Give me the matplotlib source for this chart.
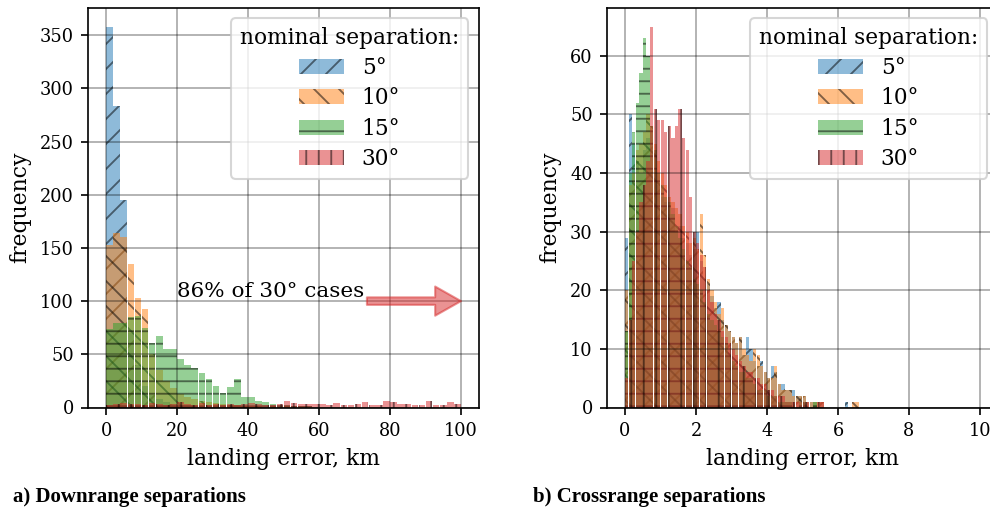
import numpy as np
import matplotlib
matplotlib.use("Agg")
import matplotlib.pyplot as plt

plt.rcParams['font.family'] = ['DejaVu Serif']
plt.rcParams['hatch.color'] = '#00000080'
plt.rcParams['hatch.linewidth'] = 0.9

# ---------------- data ----------------
labels = ['5°', '10°', '15°', '30°']
hatches = ['//', '\\\\', '--', '||']

# a) downrange: 2 km bins from 0 to 100 km
down_edges = np.arange(0, 101, 2)
down_5 = [358, 283, 195, 70, 40, 20, 12, 8, 5, 3, 2, 2, 1, 1, 0, 0, 0, 0, 0, 0,
          0, 0, 0, 0, 0, 0, 0, 0, 0, 0, 0, 0, 0, 0, 0, 0, 0, 0, 0, 0,
          0, 0, 0, 0, 0, 0, 0, 0, 0, 0]
down_10 = [153, 164, 160, 135, 103, 93, 50, 35, 25, 18, 13, 10, 8, 6, 5, 4, 3, 2, 2, 1,
           1, 1, 0, 1, 0, 1, 0, 0, 0, 0, 0, 0, 0, 0, 0, 0, 0, 0, 0, 0,
           0, 0, 0, 0, 0, 0, 0, 0, 0, 0]
down_15 = [74, 79, 79, 85, 86, 75, 61, 67, 55, 55, 46, 40, 37, 32, 27, 20, 14, 19, 27, 10,
           10, 6, 5, 3, 2, 2, 1, 1, 1, 0, 0, 0, 0, 0, 0, 0, 0, 0, 0, 0,
           0, 0, 0, 0, 0, 0, 0, 0, 0, 0]
down_30 = [2, 3, 4, 3, 3, 2, 4, 3, 2, 3, 5, 3, 2, 4, 2, 3, 2, 3, 2, 3,
           4, 3, 2, 2, 3, 6, 4, 3, 3, 3, 3, 2, 4, 2, 2, 3, 5, 2, 2, 6,
           5, 3, 3, 2, 2, 6, 2, 2, 5, 3]

# b) crossrange: 0.1 km bins from 0 to 6.6 km
cross_edges = np.round(np.arange(0, 6.61, 0.1), 2)
cross_5 = [29, 50, 45, 42, 40, 44, 46, 47, 40, 38, 36, 35, 33, 34, 30, 31, 29, 28, 26, 27,
           30, 25, 22, 21, 19, 17, 18, 15, 14, 13, 12, 11, 12, 9, 12, 10, 8, 7, 8, 6,
           5, 7, 6, 4, 4, 3, 3, 3, 2, 2, 2, 1, 1, 1, 0, 1, 0, 0, 0, 0,
           0, 0, 1, 0, 0, 0]
cross_10 = [20, 38, 40, 44, 45, 47, 50, 48, 45, 42, 40, 38, 36, 35, 34, 33, 31, 30, 28, 29,
            27, 33, 26, 22, 20, 18, 16, 17, 14, 13, 12, 11, 12, 10, 9, 8, 10, 9, 7, 6,
            5, 5, 7, 4, 3, 3, 3, 2, 2, 2, 2, 1, 1, 1, 1, 1, 0, 0, 0, 0,
            0, 0, 0, 0, 1, 1]
cross_15 = [13, 40, 47, 52, 57, 63, 60, 48, 44, 40, 38, 36, 35, 33, 31, 29, 27, 25, 24, 22,
            21, 20, 18, 16, 15, 14, 13, 12, 11, 9, 8, 7, 6, 6, 5, 5, 4, 3, 3, 3,
            2, 2, 2, 1, 1, 1, 1, 0, 0, 1, 1, 0, 0, 1, 0, 0, 0, 0, 0, 0,
            0, 0, 0, 0, 0, 0]
cross_30 = [5, 15, 25, 30, 35, 38, 42, 65, 51, 49, 49, 47, 48, 46, 48, 51, 46, 44, 36, 30,
            28, 26, 24, 20, 18, 16, 15, 13, 12, 11, 10, 9, 8, 7, 6, 6, 5, 5, 4, 4,
            3, 3, 2, 2, 2, 1, 1, 1, 1, 1, 1, 1, 0, 0, 1, 1, 0, 0, 0, 0,
            0, 0, 0, 0, 0, 0]

down_series = [down_5, down_10, down_15, down_30]
cross_series = [cross_5, cross_10, cross_15, cross_30]

# ---------------- figure ----------------
W, H = 990, 511
fig = plt.figure(figsize=(W / 150, H / 150), dpi=150)

axw = 390.5 / W
axh = 400 / H
axb = (H - 407.5) / H
axL = fig.add_axes([88.25 / W, axb, axw, axh])
axR = fig.add_axes([607.25 / W, axb, axw, axh])

FS_TICK = 8.5
FS_LAB = 10.5
FS_LEG = 10.4


def draw(ax, edges, series, rwidth):
    edges = np.asarray(edges, dtype=float)
    centers = 0.5 * (edges[:-1] + edges[1:])
    for i, (vals, lab, h) in enumerate(zip(series, labels, hatches)):
        ax.hist(centers, bins=edges, weights=vals, alpha=0.5, color=f'C{i}',
                hatch=h, label=lab, rwidth=rwidth)
    ax.grid(True, color='k', alpha=0.35, linewidth=0.8)
    ax.tick_params(labelsize=FS_TICK)
    ax.set_xlabel('landing error, km', fontsize=FS_LAB)
    ax.set_ylabel('frequency', fontsize=FS_LAB)
    ax.legend(title='nominal separation:', loc='upper right',
              fontsize=FS_LEG, title_fontsize=FS_LEG, handlelength=2.1,
              labelspacing=0.38)


draw(axL, down_edges, down_series, 0.92)
axL.set_xlim(-5, 105)
axL.set_ylim(0, 376)
axL.set_xticks(np.arange(0, 101, 20))
axL.set_yticks(np.arange(0, 351, 50))
axL.text(20, 104, '86% of 30° cases', fontsize=10.3, ha='left', va='baseline')
axL.annotate('', xy=(100, 100), xytext=(73.5, 100),
             arrowprops=dict(arrowstyle='simple,tail_width=0.18,head_width=0.7,head_length=0.62',
                             color='C3', alpha=0.5, mutation_scale=20,
                             shrinkA=0, shrinkB=0))

draw(axR, cross_edges, cross_series, 0.9)
axR.set_xlim(-0.5, 10.5)
axR.set_ylim(0, 68.25)
axR.set_xticks(np.arange(0, 11, 2))
axR.set_yticks(np.arange(0, 61, 10))

fig.text(13 / W, 1 - 497 / H, 'a) Downrange separations', fontfamily='Liberation Serif',
         fontweight='bold', fontsize=10, va='center', ha='left')
fig.text(533 / W, 1 - 497 / H, 'b) Crossrange separations', fontfamily='Liberation Serif',
         fontweight='bold', fontsize=10, va='center', ha='left')

fig.savefig('out.png', dpi=150)
